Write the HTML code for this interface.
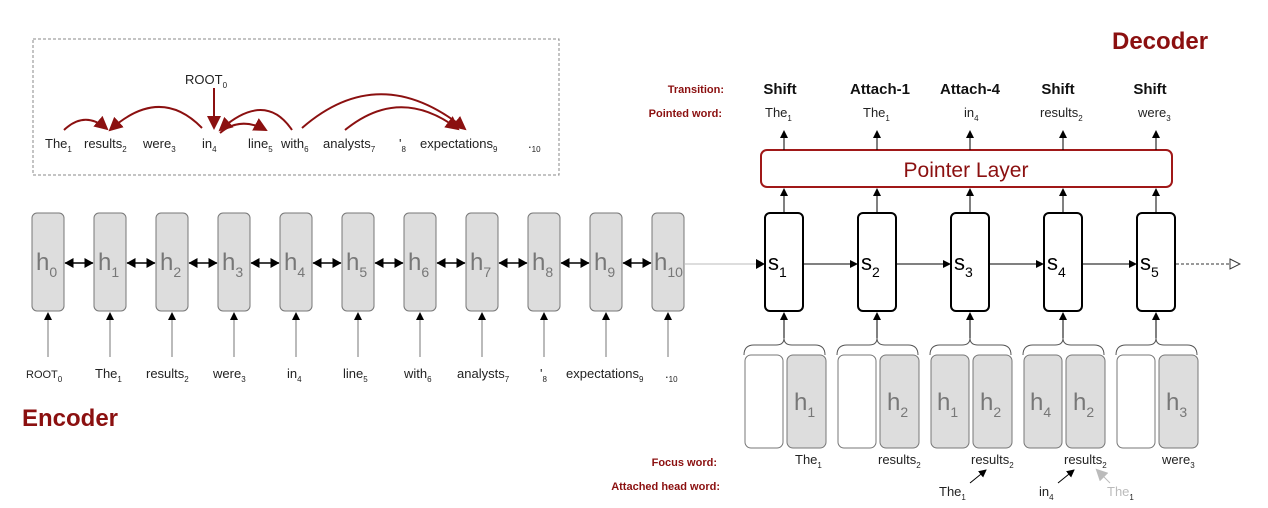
<!DOCTYPE html>
<html><head><meta charset="utf-8"><style>
body{margin:0;background:#fff}
svg{display:block;font-family:"Liberation Sans",sans-serif}
.h{font-size:24px;fill:#777}
.hs{font-size:14px;fill:#777}
.w{font-size:13px;fill:#222}
.ws{font-size:8px;fill:#222}
.red{fill:#8b1010;font-weight:bold}
</style></head><body>
<svg width="1268" height="508" viewBox="0 0 1268 508">
<defs>
<marker id="a" markerWidth="8" markerHeight="8" refX="7" refY="4" orient="auto" markerUnits="userSpaceOnUse"><path d="M0,0L8,4L0,8z" fill="#000"/></marker>
<marker id="b" markerWidth="9" markerHeight="10" refX="8.5" refY="5" orient="auto-start-reverse" markerUnits="userSpaceOnUse"><path d="M0,0L9,5L0,10z" fill="#000"/></marker>
<marker id="ar" markerWidth="14" markerHeight="14" refX="12" refY="7" orient="auto" markerUnits="userSpaceOnUse"><path d="M0,0L14,7L0,14z" fill="#8b1010"/></marker>
<marker id="ag" markerWidth="12" markerHeight="12" refX="10" refY="6" orient="auto" markerUnits="userSpaceOnUse"><path d="M0,0L12,6L0,12z" fill="#bbb"/></marker>
<marker id="ao" markerWidth="12" markerHeight="12" refX="11" refY="6" orient="auto" markerUnits="userSpaceOnUse"><path d="M1,1L11,6L1,11z" fill="#fff" stroke="#333"/></marker>
</defs>
<rect x="33" y="39" width="526" height="136" fill="none" stroke="#888" stroke-dasharray="3,2"/>
<text x="185" y="84" class="w">ROOT<tspan class="ws" dy="4">0</tspan></text>
<line x1="214" y1="88" x2="214" y2="128" stroke="#8b1010" stroke-width="2" marker-end="url(#ar)"/>
<g fill="none" stroke="#8b1010" stroke-width="2">
<path d="M64,130 Q85,110 107,129" marker-end="url(#ar)"/>
<path d="M202,128 Q160,85 110,130" marker-end="url(#ar)"/>
<path d="M220,133 Q240,116 266,130" marker-end="url(#ar)"/>
<path d="M292,130 Q265,90 220,130" marker-end="url(#ar)"/>
<path d="M302,128 Q380,60 465,129" marker-end="url(#ar)"/>
<path d="M345,130 Q400,85 458,129" marker-end="url(#ar)"/>
</g>
<g class="w">
<text x="45" y="148">The<tspan class="ws" dy="4">1</tspan></text>
<text x="84" y="148">results<tspan class="ws" dy="4">2</tspan></text>
<text x="143" y="148">were<tspan class="ws" dy="4">3</tspan></text>
<text x="202" y="148">in<tspan class="ws" dy="4">4</tspan></text>
<text x="248" y="148">line<tspan class="ws" dy="4">5</tspan></text>
<text x="281" y="148">with<tspan class="ws" dy="4">6</tspan></text>
<text x="323" y="148">analysts<tspan class="ws" dy="4">7</tspan></text>
<text x="399" y="148">'<tspan class="ws" dy="4">8</tspan></text>
<text x="420" y="148">expectations<tspan class="ws" dy="4">9</tspan></text>
<text x="528" y="148">.<tspan class="ws" dy="4">10</tspan></text>
</g>
<text x="1112" y="49" font-size="24" class="red">Decoder</text>
<text x="22" y="426" font-size="24" class="red">Encoder</text>
<g stroke="#777" fill="#ddd">
<rect x="32" y="213" width="32" height="98" rx="5"/><rect x="94" y="213" width="32" height="98" rx="5"/><rect x="156" y="213" width="32" height="98" rx="5"/><rect x="218" y="213" width="32" height="98" rx="5"/><rect x="280" y="213" width="32" height="98" rx="5"/><rect x="342" y="213" width="32" height="98" rx="5"/><rect x="404" y="213" width="32" height="98" rx="5"/><rect x="466" y="213" width="32" height="98" rx="5"/><rect x="528" y="213" width="32" height="98" rx="5"/><rect x="590" y="213" width="32" height="98" rx="5"/><rect x="652" y="213" width="32" height="98" rx="5"/>
</g>
<g class="h">
<text x="36" y="270">h<tspan class="hs" dy="7">0</tspan></text><text x="98" y="270">h<tspan class="hs" dy="7">1</tspan></text><text x="160" y="270">h<tspan class="hs" dy="7">2</tspan></text><text x="222" y="270">h<tspan class="hs" dy="7">3</tspan></text><text x="284" y="270">h<tspan class="hs" dy="7">4</tspan></text><text x="346" y="270">h<tspan class="hs" dy="7">5</tspan></text><text x="408" y="270">h<tspan class="hs" dy="7">6</tspan></text><text x="470" y="270">h<tspan class="hs" dy="7">7</tspan></text><text x="532" y="270">h<tspan class="hs" dy="7">8</tspan></text><text x="594" y="270">h<tspan class="hs" dy="7">9</tspan></text><text x="654" y="270">h<tspan class="hs" dy="7">10</tspan></text>
</g>
<g stroke="#000" stroke-width="1.5">
<line x1="65" y1="263" x2="93" y2="263" marker-end="url(#b)" marker-start="url(#b)"/>
<line x1="127" y1="263" x2="155" y2="263" marker-end="url(#b)" marker-start="url(#b)"/>
<line x1="189" y1="263" x2="217" y2="263" marker-end="url(#b)" marker-start="url(#b)"/>
<line x1="251" y1="263" x2="279" y2="263" marker-end="url(#b)" marker-start="url(#b)"/>
<line x1="313" y1="263" x2="341" y2="263" marker-end="url(#b)" marker-start="url(#b)"/>
<line x1="375" y1="263" x2="403" y2="263" marker-end="url(#b)" marker-start="url(#b)"/>
<line x1="437" y1="263" x2="465" y2="263" marker-end="url(#b)" marker-start="url(#b)"/>
<line x1="499" y1="263" x2="527" y2="263" marker-end="url(#b)" marker-start="url(#b)"/>
<line x1="561" y1="263" x2="589" y2="263" marker-end="url(#b)" marker-start="url(#b)"/>
<line x1="623" y1="263" x2="651" y2="263" marker-end="url(#b)" marker-start="url(#b)"/>
</g>
<g stroke="#777" stroke-width="1">
<line x1="48" y1="357" x2="48" y2="313" marker-end="url(#a)"/><line x1="110" y1="357" x2="110" y2="313" marker-end="url(#a)"/><line x1="172" y1="357" x2="172" y2="313" marker-end="url(#a)"/><line x1="234" y1="357" x2="234" y2="313" marker-end="url(#a)"/><line x1="296" y1="357" x2="296" y2="313" marker-end="url(#a)"/><line x1="358" y1="357" x2="358" y2="313" marker-end="url(#a)"/><line x1="420" y1="357" x2="420" y2="313" marker-end="url(#a)"/><line x1="482" y1="357" x2="482" y2="313" marker-end="url(#a)"/><line x1="544" y1="357" x2="544" y2="313" marker-end="url(#a)"/><line x1="606" y1="357" x2="606" y2="313" marker-end="url(#a)"/><line x1="668" y1="357" x2="668" y2="313" marker-end="url(#a)"/>
</g>
<g class="w">
<text x="26" y="378" font-size="11">ROOT<tspan class="ws" dy="4">0</tspan></text>
<text x="95" y="378">The<tspan class="ws" dy="4">1</tspan></text>
<text x="146" y="378">results<tspan class="ws" dy="4">2</tspan></text>
<text x="213" y="378">were<tspan class="ws" dy="4">3</tspan></text>
<text x="287" y="378">in<tspan class="ws" dy="4">4</tspan></text>
<text x="343" y="378">line<tspan class="ws" dy="4">5</tspan></text>
<text x="404" y="378">with<tspan class="ws" dy="4">6</tspan></text>
<text x="457" y="378">analysts<tspan class="ws" dy="4">7</tspan></text>
<text x="540" y="378">'<tspan class="ws" dy="4">8</tspan></text>
<text x="566" y="378">expectations<tspan class="ws" dy="4">9</tspan></text>
<text x="665" y="378">.<tspan class="ws" dy="4">10</tspan></text>
</g>
<line x1="684" y1="264" x2="764" y2="264" stroke="#bbb" stroke-width="1"/>
<path d="M756,259L765,264L756,269z" fill="#000"/>
<g stroke="#000" stroke-width="1">
<line x1="804" y1="264" x2="857" y2="264" marker-end="url(#a)"/>
<line x1="897" y1="264" x2="950" y2="264" marker-end="url(#a)"/>
<line x1="990" y1="264" x2="1043" y2="264" marker-end="url(#a)"/>
<line x1="1083" y1="264" x2="1136" y2="264" marker-end="url(#a)"/>
</g>
<line x1="1176" y1="264" x2="1240" y2="264" stroke="#333" stroke-dasharray="3,2" marker-end="url(#ao)"/>
<g stroke="#000" stroke-width="2" fill="#fff">
<rect x="765" y="213" width="38" height="98" rx="5"/><rect x="858" y="213" width="38" height="98" rx="5"/><rect x="951" y="213" width="38" height="98" rx="5"/><rect x="1044" y="213" width="38" height="98" rx="5"/><rect x="1137" y="213" width="38" height="98" rx="5"/>
</g>
<g font-size="22" fill="#000">
<text x="768" y="270">s<tspan font-size="14" dy="7">1</tspan></text><text x="861" y="270">s<tspan font-size="14" dy="7">2</tspan></text><text x="954" y="270">s<tspan font-size="14" dy="7">3</tspan></text><text x="1047" y="270">s<tspan font-size="14" dy="7">4</tspan></text><text x="1140" y="270">s<tspan font-size="14" dy="7">5</tspan></text>
</g>
<rect x="761" y="150" width="411" height="37" rx="6" fill="#fff" stroke="#a01818" stroke-width="2"/>
<text x="966" y="177" font-size="21" fill="#8b1010" text-anchor="middle">Pointer Layer</text>
<g stroke="#000" stroke-width="1">
<line x1="784" y1="213" x2="784" y2="189" marker-end="url(#a)"/><line x1="877" y1="213" x2="877" y2="189" marker-end="url(#a)"/><line x1="970" y1="213" x2="970" y2="189" marker-end="url(#a)"/><line x1="1063" y1="213" x2="1063" y2="189" marker-end="url(#a)"/><line x1="1156" y1="213" x2="1156" y2="189" marker-end="url(#a)"/>
<line x1="784" y1="150" x2="784" y2="131" marker-end="url(#a)"/><line x1="877" y1="150" x2="877" y2="131" marker-end="url(#a)"/><line x1="970" y1="150" x2="970" y2="131" marker-end="url(#a)"/><line x1="1063" y1="150" x2="1063" y2="131" marker-end="url(#a)"/><line x1="1156" y1="150" x2="1156" y2="131" marker-end="url(#a)"/>
<line x1="784" y1="340" x2="784" y2="313" marker-end="url(#a)"/><line x1="877" y1="340" x2="877" y2="313" marker-end="url(#a)"/><line x1="970" y1="340" x2="970" y2="313" marker-end="url(#a)"/><line x1="1063" y1="340" x2="1063" y2="313" marker-end="url(#a)"/><line x1="1156" y1="340" x2="1156" y2="313" marker-end="url(#a)"/>
</g>
<text x="724" y="93" font-size="11" class="red" text-anchor="end">Transition:</text>
<text x="722" y="117" font-size="11" class="red" text-anchor="end">Pointed word:</text>
<g font-size="15" font-weight="bold" text-anchor="middle" fill="#111">
<text x="780" y="94">Shift</text><text x="880" y="94">Attach-1</text><text x="970" y="94">Attach-4</text><text x="1058" y="94">Shift</text><text x="1150" y="94">Shift</text>
</g>
<g class="w" font-size="12">
<text x="765" y="117">The<tspan class="ws" dy="4">1</tspan></text>
<text x="863" y="117">The<tspan class="ws" dy="4">1</tspan></text>
<text x="964" y="117">in<tspan class="ws" dy="4">4</tspan></text>
<text x="1040" y="117">results<tspan class="ws" dy="4">2</tspan></text>
<text x="1138" y="117">were<tspan class="ws" dy="4">3</tspan></text>
</g>
<g fill="none" stroke="#555" stroke-width="1">
<path d="M744,355 Q744,345 754,345 L776,345 Q784,345 784,338 Q784,345 792,345 L815,345 Q825,345 825,355"/>
<path d="M837,355 Q837,345 847,345 L869,345 Q877,345 877,338 Q877,345 885,345 L908,345 Q918,345 918,355"/>
<path d="M930,355 Q930,345 940,345 L962,345 Q970,345 970,338 Q970,345 978,345 L1001,345 Q1011,345 1011,355"/>
<path d="M1023,355 Q1023,345 1033,345 L1055,345 Q1063,345 1063,338 Q1063,345 1071,345 L1094,345 Q1104,345 1104,355"/>
<path d="M1116,355 Q1116,345 1126,345 L1148,345 Q1156,345 1156,338 Q1156,345 1164,345 L1187,345 Q1197,345 1197,355"/>
</g>
<g stroke="#777">
<rect x="745" y="355" width="38" height="93" rx="6" fill="#fff"/><rect x="787" y="355" width="39" height="93" rx="6" fill="#ddd"/>
<rect x="838" y="355" width="38" height="93" rx="6" fill="#fff"/><rect x="880" y="355" width="39" height="93" rx="6" fill="#ddd"/>
<rect x="931" y="355" width="38" height="93" rx="6" fill="#ddd"/><rect x="973" y="355" width="39" height="93" rx="6" fill="#ddd"/>
<rect x="1024" y="355" width="38" height="93" rx="6" fill="#ddd"/><rect x="1066" y="355" width="39" height="93" rx="6" fill="#ddd"/>
<rect x="1117" y="355" width="38" height="93" rx="6" fill="#fff"/><rect x="1159" y="355" width="39" height="93" rx="6" fill="#ddd"/>
</g>
<g class="h">
<text x="794" y="410">h<tspan class="hs" dy="7">1</tspan></text>
<text x="887" y="410">h<tspan class="hs" dy="7">2</tspan></text>
<text x="937" y="410">h<tspan class="hs" dy="7">1</tspan></text><text x="980" y="410">h<tspan class="hs" dy="7">2</tspan></text>
<text x="1030" y="410">h<tspan class="hs" dy="7">4</tspan></text><text x="1073" y="410">h<tspan class="hs" dy="7">2</tspan></text>
<text x="1166" y="410">h<tspan class="hs" dy="7">3</tspan></text>
</g>
<text x="717" y="466" font-size="11" class="red" text-anchor="end">Focus word:</text>
<text x="720" y="490" font-size="11" class="red" text-anchor="end">Attached head word:</text>
<g class="w" font-size="12">
<text x="795" y="464">The<tspan class="ws" dy="4">1</tspan></text>
<text x="878" y="464">results<tspan class="ws" dy="4">2</tspan></text>
<text x="971" y="464">results<tspan class="ws" dy="4">2</tspan></text>
<text x="1064" y="464">results<tspan class="ws" dy="4">2</tspan></text>
<text x="1162" y="464">were<tspan class="ws" dy="4">3</tspan></text>
<text x="939" y="496">The<tspan class="ws" dy="4">1</tspan></text>
<text x="1039" y="496">in<tspan class="ws" dy="4">4</tspan></text>
<text x="1107" y="496" fill="#bbb">The<tspan class="ws" dy="4" fill="#bbb">1</tspan></text>
</g>
<line x1="970" y1="483" x2="986" y2="470" stroke="#000" marker-end="url(#a)"/>
<line x1="1058" y1="483" x2="1074" y2="470" stroke="#000" marker-end="url(#a)"/>
<line x1="1110" y1="483" x2="1097" y2="470" stroke="#bbb" marker-end="url(#ag)"/>
</svg>
</body></html>
